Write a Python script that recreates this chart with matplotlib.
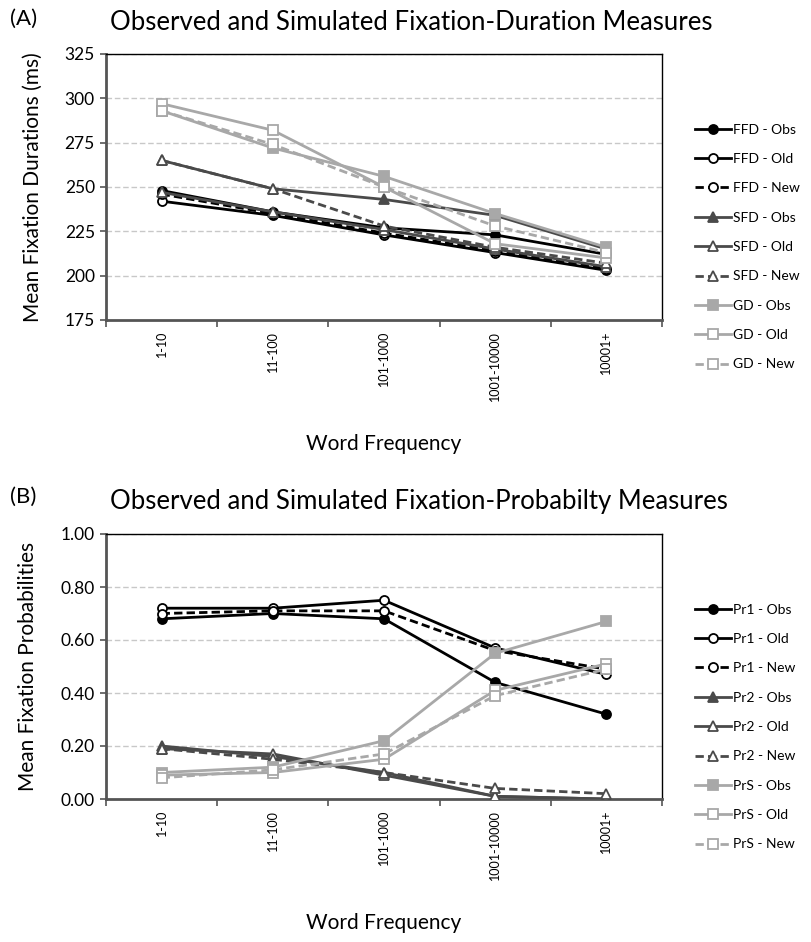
import matplotlib
matplotlib.use('Agg')
import matplotlib.pyplot as plt

plt.rcParams['font.family'] = ['Lato', 'DejaVu Sans']

categories = ['1-10', '11-100', '101-1000', '1001-10000', '10001+']

# Panel A: fixation durations (ms)
ffd_obs = [248, 236, 227, 223, 212]
ffd_old = [242, 234, 223, 213, 203]
ffd_new = [246, 235, 224, 214, 204]
sfd_obs = [265, 249, 243, 234, 215]
sfd_old = [247, 236, 226, 215, 205]
sfd_new = [265, 249, 228, 216, 207]
gd_obs = [293, 272, 256, 235, 216]
gd_old = [297, 282, 250, 218, 210]
gd_new = [293, 274, 250, 228, 213]

# Panel B: fixation probabilities
pr1_obs = [0.68, 0.70, 0.68, 0.44, 0.32]
pr1_old = [0.72, 0.72, 0.75, 0.57, 0.47]
pr1_new = [0.70, 0.71, 0.71, 0.56, 0.49]
pr2_obs = [0.20, 0.16, 0.10, 0.01, 0.00]
pr2_old = [0.19, 0.17, 0.09, 0.01, 0.00]
pr2_new = [0.19, 0.15, 0.10, 0.04, 0.02]
prs_obs = [0.10, 0.12, 0.22, 0.55, 0.67]
prs_old = [0.09, 0.10, 0.15, 0.41, 0.51]
prs_new = [0.08, 0.11, 0.17, 0.39, 0.49]

labels_a = ['FFD - Obs', 'FFD - Old', 'FFD - New', 'SFD - Obs', 'SFD - Old',
            'SFD - New', 'GD - Obs', 'GD - Old', 'GD - New']
labels_b = ['Pr1 - Obs', 'Pr1 - Old', 'Pr1 - New', 'Pr2 - Obs', 'Pr2 - Old',
            'Pr2 - New', 'PrS - Obs', 'PrS - Old', 'PrS - New']

BLACK = '#000000'
DARK = '#4a4a4a'
LIGHT = '#a8a8a8'

styles = [
    dict(color=BLACK, marker='o', mfc=BLACK, ls='-'),
    dict(color=BLACK, marker='o', mfc='white', ls='-'),
    dict(color=BLACK, marker='o', mfc='white', ls=(0, (3, 1.5))),
    dict(color=DARK, marker='^', mfc=DARK, ls='-'),
    dict(color=DARK, marker='^', mfc='white', ls='-'),
    dict(color=DARK, marker='^', mfc='white', ls=(0, (3, 1.5))),
    dict(color=LIGHT, marker='s', mfc=LIGHT, ls='-'),
    dict(color=LIGHT, marker='s', mfc='white', ls='-'),
    dict(color=LIGHT, marker='s', mfc='white', ls=(0, (3, 1.5))),
]

fig = plt.figure(figsize=(8.12, 9.42), dpi=100)
W, H = 812, 942


def fx(px):
    return px / W


def fy(py):
    return 1 - py / H


def draw_panel(ax, series, labels, ylim, yticks, yfmt, ylabel, leg_center_y):
    x = list(range(len(categories)))
    handles = []
    for data, st, lab in zip(series, styles, labels):
        h, = ax.plot(x, data, color=st['color'], ls=st['ls'], lw=2.0,
                     marker=st['marker'], ms=6.5, mfc=st['mfc'],
                     mec=st['color'], mew=1.3, label=lab, zorder=3)
        handles.append(h)
    ax.set_xlim(-0.5, len(categories) - 0.5)
    ax.set_ylim(*ylim)
    ax.set_yticks(yticks)
    ax.set_yticklabels([yfmt(v) for v in yticks], fontsize=12.5)
    ax.set_xticks(x)
    ax.set_xticklabels(categories, rotation=90, fontsize=9)
    ax.set_xticks([i + 0.5 for i in range(-1, len(categories))], minor=True)
    ax.tick_params(axis='x', which='major', length=0, pad=8)
    ax.tick_params(axis='x', which='minor', length=5, width=1.2, color='#555555', direction='out')
    ax.tick_params(axis='y', length=4, width=1.2, color='#555555', direction='out', pad=4)
    for yv in yticks[1:]:
        ax.axhline(yv, color='#c8c8c8', lw=1.0, ls=(0, (4, 2)), zorder=1)
    for s in ['top', 'right']:
        ax.spines[s].set_color('black')
        ax.spines[s].set_linewidth(1.0)
    for s in ['left', 'bottom']:
        ax.spines[s].set_color('#555555')
        ax.spines[s].set_linewidth(2.0)
    ax.set_ylabel(ylabel, fontsize=15, labelpad=16)
    ax.set_xlabel('Word Frequency', fontsize=15, labelpad=24)
    fig.legend(handles=handles, loc='center left',
               bbox_to_anchor=(fx(688), fy(leg_center_y)), frameon=False,
               fontsize=10, handlelength=2.6, labelspacing=1.25,
               handletextpad=0.15, borderpad=0)


axA = fig.add_axes([fx(106), fy(320), fx(662) - fx(106), fy(54) - fy(320)])
draw_panel(axA,
           [ffd_obs, ffd_old, ffd_new, sfd_obs, sfd_old, sfd_new, gd_obs, gd_old, gd_new],
           labels_a, (175, 325), [175, 200, 225, 250, 275, 300, 325],
           lambda v: f'{v:d}', 'Mean Fixation Durations (ms)', 247)

axB = fig.add_axes([fx(106), fy(799), fx(662) - fx(106), fy(534) - fy(799)])
draw_panel(axB,
           [pr1_obs, pr1_old, pr1_new, pr2_obs, pr2_old, pr2_new, prs_obs, prs_old, prs_new],
           labels_b, (0, 1.0), [0.0, 0.2, 0.4, 0.6, 0.8, 1.0],
           lambda v: f'{v:.2f}', 'Mean Fixation Probabilities', 727)

fig.text(fx(10), fy(19), '(A)', fontsize=16, va='center', ha='left')
fig.text(fx(110), fy(22), 'Observed and Simulated Fixation-Duration Measures',
         fontsize=18.5, va='center', ha='left')
fig.text(fx(10), fy(497), '(B)', fontsize=16, va='center', ha='left')
fig.text(fx(110), fy(501), 'Observed and Simulated Fixation-Probabilty Measures',
         fontsize=18.5, va='center', ha='left')

fig.savefig('out.png', dpi=100)
